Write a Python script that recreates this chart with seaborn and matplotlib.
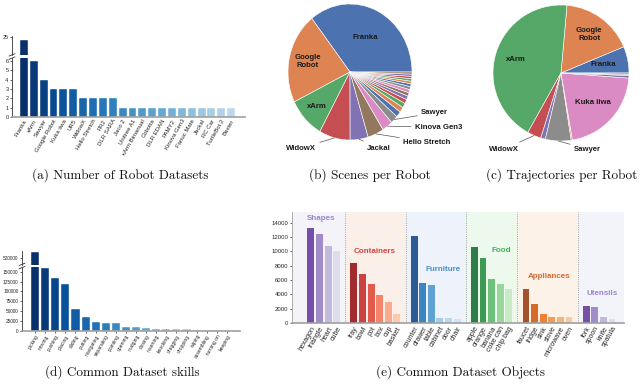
import numpy as np
import matplotlib
matplotlib.use("Agg")
import matplotlib.pyplot as plt
from matplotlib.lines import Line2D
import seaborn as sns

# ---------------- data ----------------
robot_names = ["Franka", "xArm", "Sawyer", "Google Robot", "Kuka iiwa", "UR5", "WidowX",
               "Hello Stretch", "PR2", "DLR SARA", "Jaco 2", "Unitree A1", "xArm Bimanual",
               "Cobotta", "DLR EDAN", "PAMY2", "Kinova Gen3", "Fanuc Mate", "Jackal",
               "RC Car", "TurtleBot 2", "Baxter"]
robot_counts = [24, 6, 4, 3, 3, 3, 2, 2, 2, 2, 1, 1, 1, 1, 1, 1, 1, 1, 1, 1, 1, 1]

scene_robots = ["Franka", "Google Robot", "xArm", "WidowX", "Jackal", "Hello Stretch",
                "Kinova Gen3", "Sawyer", "Kuka iiwa", "UR5", "PR2", "DLR SARA", "Jaco 2",
                "Unitree A1", "xArm Bimanual", "Cobotta", "DLR EDAN", "PAMY2", "Fanuc Mate",
                "RC Car", "TurtleBot 2", "Baxter"]
scene_share = [35.6, 21.7, 9.7, 8.1, 4.7, 4.2, 2.8, 1.9, 1.39, 1.25, 1.11, 0.97, 0.89,
               0.83, 0.78, 0.72, 0.67, 0.61, 0.58, 0.56, 0.53, 0.5]

traj_robots = ["Franka", "Google Robot", "xArm", "WidowX", "Jackal", "Sawyer",
               "Hello Stretch", "Kuka iiwa", "UR5", "PR2", "DLR SARA"]
traj_share = [6.3, 17.3, 43.3, 3.3, 1.1, 6.1, 0.3, 21.1, 0.6, 0.3, 0.3]

skill_names = ["picking", "moving", "pushing", "placing", "sliding", "putting", "navigating",
               "separating", "pointing", "opening", "nudging", "closing", "inserting",
               "knocking", "dragging", "dropping", "wiping", "assembling", "turning on",
               "keeping"]
skill_counts = [528000, 159000, 134000, 118700, 55000, 34800, 22900, 20300, 19500, 10200,
                9400, 7600, 5900, 5100, 5000, 4500, 3700, 3500, 3300, 3000]

group_names = ["Shapes", "Containers", "Furniture", "Food", "Appliances", "Utensils"]
shapes = ["hexagon", "triangle", "heart", "cube"]
shapes_vals = [13300, 12400, 10800, 10000]
containers = ["tray", "bowl", "pot", "box", "cup", "basket"]
containers_vals = [8400, 6800, 5500, 3900, 2900, 1300]
furniture = ["counter", "drawer", "table", "cabinet", "door", "chair"]
furniture_vals = [12200, 5600, 5300, 700, 700, 600]
food = ["apple", "orange", "banana", "coke can", "chip bag"]
food_vals = [10600, 9100, 6200, 5500, 4700]
appliances = ["faucet", "fridge", "sink", "stove", "microwave", "oven"]
appliances_vals = [4800, 2600, 1300, 900, 900, 900]
utensils = ["fork", "spoon", "knife", "spatula"]
utensils_vals = [2400, 2200, 800, 600]

captions = ["(a) Number of Robot Datasets", "(b) Scenes per Robot",
            "(c) Trajectories per Robot", "(d) Common Dataset skills",
            "(e) Common Dataset Objects"]

# ---------------- style ----------------
sns.set_theme(style="ticks")
plt.rcParams['font.family'] = ['Liberation Sans', 'DejaVu Sans']

W, H = 640, 390
fig = plt.figure(figsize=(6.4, 3.9), dpi=100)


def px_axes(l, t, r, b):
    return fig.add_axes([l / W, 1 - b / H, (r - l) / W, (b - t) / H])


def style_axes(ax, bottom=True):
    for s in ["top", "right"]:
        ax.spines[s].set_visible(False)
    ax.spines["left"].set_color("#333333")
    ax.spines["left"].set_linewidth(0.6)
    if bottom:
        ax.spines["bottom"].set_color("#a0a0a0")
        ax.spines["bottom"].set_linewidth(1.2)
    else:
        ax.spines["bottom"].set_visible(False)


def break_mark(x, y):
    for dy in (-1.6, 1.6):
        fig.add_artist(Line2D([(x - 3) / W, (x + 3) / W],
                              [1 - (y + dy + 1.2) / H, 1 - (y + dy - 1.2) / H],
                              color="#333333", lw=0.6))


blues = sns.color_palette("Blues", as_cmap=True)

# ---------------- (a) number of robot datasets ----------------
cols_a = [blues(v) for v in np.linspace(1.0, 0.28, len(robot_names))]
pal_a = dict(zip(robot_names, cols_a))
ax_a_lo = px_axes(12, 58, 245, 117)
ax_a_hi = px_axes(12, 36, 245, 55)
for ax in (ax_a_lo, ax_a_hi):
    sns.barplot(x=robot_names, y=robot_counts, hue=robot_names, palette=pal_a,
                legend=False, ax=ax, width=0.8, saturation=1,
                edgecolor="white", linewidth=0.3)
    ax.set_xlim(-1.2, 22.4)
    ax.set_ylabel("")
ax_a_lo.set_ylim(0, 6.3)
ax_a_lo.set_yticks(range(0, 7))
ax_a_hi.set_ylim(20, 25.2)
ax_a_hi.set_yticks([25])
style_axes(ax_a_lo)
style_axes(ax_a_hi, bottom=False)
ax_a_hi.set_xticks([])
ax_a_lo.tick_params(axis="y", labelsize=4, length=1.5, width=0.5, pad=1)
ax_a_hi.tick_params(axis="y", labelsize=4, length=1.5, width=0.5, pad=1)
ax_a_lo.tick_params(axis="x", labelsize=4.3, length=0, pad=1)
ax_a_lo.set_xticks(range(len(robot_names)))
ax_a_lo.set_xticklabels(robot_names, rotation=60, ha="right", rotation_mode="anchor")
break_mark(12, 56.5)

# ---------------- (b) scenes per robot ----------------
deep = sns.color_palette("deep")
pie_edge = dict(edgecolor="white", linewidth=0.4)
label_font = dict(fontsize=5.6, fontweight="bold", color="#1a1a1a")


def pie_axes(cx, cy, rx, ry, s=1.5):
    ax = px_axes(cx - rx * s, cy - ry * s, cx + rx * s, cy + ry * s)
    return ax


ax_b = pie_axes(350, 72, 62, 68)
cols_b = [deep[i % 8] for i in range(len(scene_robots))]
ax_b.pie(scene_share, colors=cols_b, startangle=0, counterclock=True,
         wedgeprops=pie_edge)
ax_b.set_aspect("auto")
ax_b.set_xlim(-1.5, 1.5)
ax_b.set_ylim(-1.5, 1.5)
cum_b = np.cumsum(scene_share) / np.sum(scene_share) * 360
mid_b = np.radians(cum_b - np.array(scene_share) / np.sum(scene_share) * 180)
inside_b = {"Franka": 0.56, "Google Robot": 0.70, "xArm": 0.74}
for name, r in inside_b.items():
    i = scene_robots.index(name)
    txt = "Google\nRobot" if name == "Google Robot" else name
    ax_b.text(r * np.cos(mid_b[i]), r * np.sin(mid_b[i]), txt, ha="center",
              va="center", linespacing=1.1, **label_font)
outside_b = {"WidowX": (-0.55, -1.12, "right"), "Jackal": (0.27, -1.12, "left"),
             "Hello Stretch": (0.86, -1.03, "left"), "Kinova Gen3": (1.05, -0.81, "left"),
             "Sawyer": (1.15, -0.60, "left")}
for name, (tx, ty, ha) in outside_b.items():
    i = scene_robots.index(name)
    ax_b.annotate(name, xy=(np.cos(mid_b[i]), np.sin(mid_b[i])), xytext=(tx, ty),
                  ha=ha, va="center", annotation_clip=False,
                  arrowprops=dict(arrowstyle="-", color="#555555", lw=0.5,
                                  shrinkA=0.5, shrinkB=0),
                  **label_font)

# ---------------- (c) trajectories per robot ----------------
ax_c = pie_axes(561, 73, 68, 68)
cols_c = [deep[0], deep[1], deep[2], deep[3], deep[4], deep[7], deep[1], deep[6],
          deep[4], deep[5], deep[7]]
ax_c.pie(traj_share, colors=cols_c, startangle=0, counterclock=True, wedgeprops=pie_edge)
ax_c.set_aspect("auto")
ax_c.set_xlim(-1.5, 1.5)
ax_c.set_ylim(-1.5, 1.5)
cum_c = np.cumsum(traj_share) / np.sum(traj_share) * 360
mid_c = np.radians(cum_c - np.array(traj_share) / np.sum(traj_share) * 180)
inside_c = {"Franka": 0.64, "Google Robot": 0.70, "xArm": 0.69, "Kuka iiwa": 0.64}
for name, r in inside_c.items():
    i = traj_robots.index(name)
    txt = "Google\nRobot" if name == "Google Robot" else name
    ax_c.text(r * np.cos(mid_c[i]), r * np.sin(mid_c[i]), txt, ha="center",
              va="center", linespacing=1.1, **label_font)
outside_c = {"WidowX": (-0.62, -1.12, "right"), "Sawyer": (0.19, -1.12, "left")}
for name, (tx, ty, ha) in outside_c.items():
    i = traj_robots.index(name)
    ax_c.annotate(name, xy=(np.cos(mid_c[i]), np.sin(mid_c[i])), xytext=(tx, ty),
                  ha=ha, va="center", annotation_clip=False,
                  arrowprops=dict(arrowstyle="-", color="#555555", lw=0.5,
                                  shrinkA=0.5, shrinkB=0),
                  **label_font)

# ---------------- (d) common dataset skills ----------------
cols_d = [blues(v) for v in np.linspace(1.0, 0.2, len(skill_names))]
pal_d = dict(zip(skill_names, cols_d))
ax_d_lo = px_axes(22, 267, 240, 331)
ax_d_hi = px_axes(22, 251, 240, 265)
for ax in (ax_d_lo, ax_d_hi):
    sns.barplot(x=skill_names, y=skill_counts, hue=skill_names, palette=pal_d,
                legend=False, ax=ax, width=0.8, saturation=1,
                edgecolor="white", linewidth=0.3)
    ax.set_xlim(-1.3, 20.3)
    ax.set_ylabel("")
ax_d_lo.set_ylim(0, 162000)
ax_d_lo.set_yticks(range(0, 150001, 25000))
ax_d_hi.set_ylim(510000, 530000)
ax_d_hi.set_yticks([520000])
style_axes(ax_d_lo)
style_axes(ax_d_hi, bottom=False)
ax_d_hi.set_xticks([])
for ax in (ax_d_lo, ax_d_hi):
    ax.tick_params(axis="y", labelsize=3.4, length=1.5, width=0.5, pad=1)
ax_d_lo.tick_params(axis="x", labelsize=3.6, length=1.2, width=0.5, pad=1)
ax_d_lo.set_xticks(range(len(skill_names)))
ax_d_lo.set_xticklabels(skill_names, rotation=60, ha="right", rotation_mode="anchor")
break_mark(22, 266)

# ---------------- (e) common dataset objects ----------------
groups = [
    (shapes, shapes_vals, ["#7650a8", "#9f8cc8", "#c2badd", "#dfdcee"], "#f5f3fa", "#9d87c9"),
    (containers, containers_vals, ["#a02c2d", "#cc4242", "#e35b4b", "#f4846a", "#fbaa8a", "#fccab1"], "#fbefe9", "#d14541"),
    (furniture, furniture_vals, ["#2c5a94", "#3a85c2", "#5ea3d4", "#a6cde7", "#b9d8ee", "#d0e3f3"], "#eef3fb", "#4b8dc8"),
    (food, food_vals, ["#2e7c47", "#3d9b56", "#6cc17b", "#9ad59c", "#c8eac4"], "#eef9ee", "#3fae5a"),
    (appliances, appliances_vals, ["#a3522b", "#d56a2b", "#ef7f31", "#f59b55", "#f8b37c", "#fac9a0"], "#fdf2e7", "#d9692e"),
    (utensils, utensils_vals, ["#7650a8", "#9f8cc8", "#c2badd", "#dfdcee"], "#f3f3fa", "#9d87c9"),
]
label_dx = [-0.47, 0.0, 1.3, 2.0, 0.2, 0.0]
label_y = [14560, 9940, 7420, 10080, 6440, 4060]

ax_e = px_axes(292, 212, 624, 323)
xmin, xmax = -2.2, 36.4
all_pos, all_lab, all_val, pal_e = [], [], [], {}
starts, pos = [], 0
for labels, vals, cols, _, _ in groups:
    starts.append(pos)
    for k, (lab, v) in enumerate(zip(labels, vals)):
        all_pos.append(pos + k)
        all_lab.append(lab)
        all_val.append(v)
        pal_e[lab] = cols[k]
    pos += len(labels) + 1
seps = [s - 1 for s in starts[1:]]
bounds = [xmin] + seps + [xmax]
for gi, (labels, vals, cols, bg, tc) in enumerate(groups):
    ax_e.axvspan(bounds[gi], bounds[gi + 1], color=bg, lw=0, zorder=0)
    ax_e.text(starts[gi] + label_dx[gi], label_y[gi], group_names[gi], color=tc,
              fontsize=5.8, fontweight="bold", ha="left", va="center")
for s in seps:
    ax_e.axvline(s, color="#8c8c8c", lw=0.6, ls=(0, (1, 1.6)), zorder=0.5)
sns.barplot(x=all_pos, y=all_val, hue=all_lab, palette=pal_e, native_scale=True,
            legend=False, ax=ax_e, width=0.8, saturation=1, linewidth=0)
ax_e.set_xlim(xmin, xmax)
ax_e.set_ylim(0, 15500)
ax_e.set_yticks(range(0, 14001, 2000))
ax_e.set_xticks(all_pos)
ax_e.set_xticklabels(all_lab, rotation=60, ha="right", rotation_mode="anchor")
ax_e.set_ylabel("")
style_axes(ax_e)
ax_e.spines["left"].set_color("#a0a0a0")
ax_e.tick_params(axis="y", labelsize=4.3, length=1.5, width=0.5, pad=1)
ax_e.tick_params(axis="x", labelsize=5, length=0, pad=1.5)

# ---------------- captions ----------------
cap_pos = [(120, 175), (370, 175), (562, 175), (122, 372), (460, 372)]
for txt, (x, y) in zip(captions, cap_pos):
    fig.text(x / W, 1 - y / H, txt, ha="center", va="center", family="cmr10",
             fontsize=9.5, color="#111111")

fig.savefig("out.png", dpi=100)
